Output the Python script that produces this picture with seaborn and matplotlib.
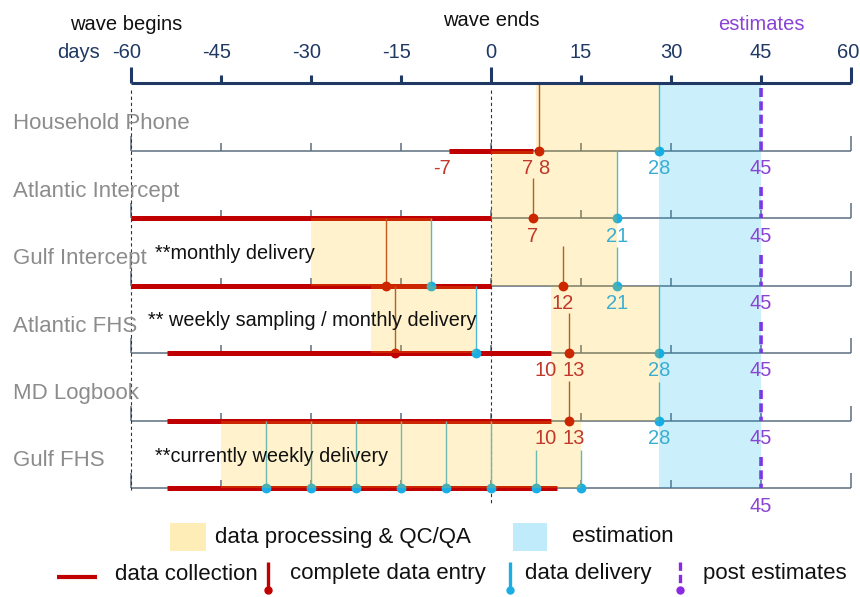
import numpy as np
import pandas as pd
import matplotlib
matplotlib.use('Agg')
import matplotlib.pyplot as plt
import seaborn as sns

sns.set_style('white')
plt.rcParams['font.family'] = ['Liberation Sans', 'DejaVu Sans']

# Data (days relative to end of wave)
sources = ['Household Phone', 'Atlantic Intercept', 'Gulf Intercept',
           'Atlantic FHS', 'MD Logbook', 'Gulf FHS']
collect_start = [-7, -60, -60, -54, -54, -54]
collect_end = [7, 0, 0, 10, 10, 11]
entry_day = [8, 7, 12, 13, 13, np.nan]
delivery_day = [28, 21, 21, 28, 28, 15]
post_day = [45, 45, 45, 45, 45, 45]
processing = [[(7.5, 28)], [(0, 21)], [(-30, -10), (0, 21)],
              [(-20, -2.5), (10, 28)], [(10, 28)], [(-45, 15)]]
estimation = [(28, 45)] * 6
early_entry = [np.nan, np.nan, -17.5, -16, np.nan, np.nan]
early_delivery = [np.nan, np.nan, -10, -2.5, np.nan, np.nan]
gulf_fhs_weekly = [-37.5, -30, -22.5, -15, -7.5, 0, 7.5, 15]
notes = ['', '', '**monthly delivery', '** weekly sampling / monthly delivery',
         '', '**currently weekly delivery']
label_fields = [['start', 'end', 'entry', 'delivery', 'post'],
                ['entry', 'delivery', 'post'],
                ['entry', 'delivery', 'post'],
                ['end', 'entry', 'delivery', 'post'],
                ['end', 'entry', 'delivery', 'post'],
                ['post']]
day_ticks = [-60, -45, -30, -15, 0, 15, 30, 45, 60]

# colours
navy = '#1f3864'
red = '#c00000'
red_txt = '#c0392b'
blue = '#1aaee5'
blue_line = '#4cb9dd'
blue_txt = '#3aaed0'
purple = '#8a2be2'
purple_txt = '#8a44d4'
gray_txt = '#8c8c8c'
base_col = '#5d6d7e'
tan = '#ffc000'
sky = '#00b0f0'

fs_axis = 14.5
fs_val = 14.5
fs_row = 16
fs_note = 14.3
fs_leg = 16

fig = plt.figure(figsize=(8.6, 5.97), dpi=100)
ax = fig.add_axes([0, 0, 1, 1])

def px(x):
    return (x - 491) / 6.0

axis_y = 83
base_y = [150.5 + i * 67.5 for i in range(len(sources))]

# top axis
ax.hlines(axis_y, -60, 60, color=navy, lw=2.2, zorder=5)
for d in day_ticks:
    top = axis_y - 16 if d in (-60, 0, 60) else axis_y - 8
    ax.vlines(d, top, axis_y, color=navy, lw=2.2, zorder=5)
    if d == day_ticks[-1]:
        ax.text(px(859), 52, str(d), ha='right', va='center', fontsize=fs_axis, color=navy)
    else:
        shift = -0.7 if d < 0 else 0
        ax.text(d + shift, 52, str(d), ha='center', va='center', fontsize=fs_axis, color=navy)
ax.text(px(100), 52, 'days', ha='right', va='center', fontsize=fs_axis, color=navy)
ax.text(px(126), 24, 'wave begins', ha='center', va='center', fontsize=fs_axis, color='#111111')
ax.text(0, 20, 'wave ends', ha='center', va='center', fontsize=fs_axis, color='#111111')
ax.text(45, 25, 'estimates', ha='center', va='center', fontsize=fs_axis, color=purple_txt)

# dashed reference lines
ax.vlines(-60, 90, 490, color='#333333', lw=0.8, linestyles=(0, (3, 2.5)), zorder=2)
ax.vlines(0, 90, 505, color='#333333', lw=0.8, linestyles=(0, (3, 2.5)), zorder=2)

dots_entry = []
dots_deliv = []
label_pos = []
for i, name in enumerate(sources):
    y = base_y[i]
    prev = base_y[i - 1] if i > 0 else axis_y
    ax.text(px(13), y - 27, name, ha='left', va='center', fontsize=fs_row, color=gray_txt)
    # baseline with ticks
    ax.hlines(y, -60, 60, color=base_col, lw=1.1, zorder=1)
    for d in day_ticks:
        h = 15 if d in (-60, 60) else 8
        ax.vlines(d, y - h, y, color=base_col, lw=1.1, zorder=1)
    # data collection
    ax.hlines(y, collect_start[i], collect_end[i], color=red, lw=3.6, zorder=2)
    # shading
    for a, b in processing[i]:
        ax.fill_between([a, b], prev, y, color=tan, alpha=0.2, lw=0, zorder=4)
    a, b = estimation[i]
    ax.fill_between([a, b], prev, y, color=sky, alpha=0.2, lw=0, zorder=4)

    # complete data entry
    if not np.isnan(entry_day[i]):
        top = prev if i == 0 else y - 40
        ax.vlines(entry_day[i], top, y, color='#b5402a', lw=1.0, zorder=3)
        dots_entry.append((entry_day[i], y))
    if not np.isnan(early_entry[i]):
        ax.vlines(early_entry[i], prev, y, color='#b5402a', lw=1.0, zorder=3)
        dots_entry.append((early_entry[i], y))
    # data delivery
    delivs = gulf_fhs_weekly if name == 'Gulf FHS' else [delivery_day[i]]
    for d in delivs:
        top = prev
        if i > 0 and any(abs(d - p) < 4 for p in label_pos):
            top = prev + 29
        ax.vlines(d, top, y, color=blue_line, lw=1.0, zorder=3)
        dots_deliv.append((d, y))
    if not np.isnan(early_delivery[i]):
        ax.vlines(early_delivery[i], prev, y, color=blue_line, lw=1.0, zorder=3)
        dots_deliv.append((early_delivery[i], y))
    # post estimates
    top = prev + 5 if i == 0 else y - 31
    ax.vlines(post_day[i], top, y, color=purple, lw=2.6,
              linestyles=(0, (2.5, 1.2)), zorder=3)

    # value labels under the baseline
    label_pos = []
    ly = y + 18
    fields = label_fields[i]
    mid = (collect_end[i] + entry_day[i]) / 2.0
    for f in fields:
        if f == 'start':
            v = collect_start[i]
            ax.text(v + 0.3, ly, str(v), ha='right', va='center', fontsize=fs_val, color=red_txt, zorder=6)
        elif f == 'end':
            v = collect_end[i]
            ax.text(mid - 0.5, ly, str(v), ha='right', va='center', fontsize=fs_val, color=red_txt, zorder=6)
        elif f == 'entry':
            v = int(entry_day[i])
            if 'end' in fields:
                ax.text(mid + 0.4, ly, str(v), ha='left', va='center', fontsize=fs_val, color=red_txt, zorder=6)
            else:
                ax.text(v, ly, str(v), ha='center', va='center', fontsize=fs_val, color=red_txt, zorder=6)
        elif f == 'delivery':
            v = delivery_day[i]
            ax.text(v, ly, str(v), ha='center', va='center', fontsize=fs_val, color=blue_txt, zorder=6)
        else:
            v = post_day[i]
            ax.text(v, ly, str(v), ha='center', va='center', fontsize=fs_val, color=purple_txt, zorder=6)
        label_pos.append(v)

    if notes[i]:
        ax.text(px(155) if i != 3 else px(148), y - 32, notes[i], ha='left', va='center',
                fontsize=fs_note, color='#111111', zorder=6)

df_entry = pd.DataFrame(dots_entry, columns=['day', 'y'])
df_deliv = pd.DataFrame(dots_deliv, columns=['day', 'y'])
sns.scatterplot(data=df_entry, x='day', y='y', color=red, s=50, linewidth=0,
                ax=ax, zorder=3, legend=False)
sns.scatterplot(data=df_deliv, x='day', y='y', color=blue, s=50, linewidth=0,
                ax=ax, zorder=3, legend=False)

# legend (drawn by hand)
ax.fill_between([px(170), px(206)], 523, 551, color=tan, alpha=0.28, lw=0)
ax.text(px(215), 537, 'data processing & QC/QA', ha='left', va='center', fontsize=fs_leg, color='#111111')
ax.fill_between([px(513), px(547)], 523, 551, color=sky, alpha=0.25, lw=0)
ax.text(px(572), 537, 'estimation', ha='left', va='center', fontsize=fs_leg, color='#111111')

ly = 574
ax.hlines(ly + 3, px(57), px(97), color=red, lw=3.0)
ax.text(px(115), ly, 'data collection', ha='left', va='center', fontsize=fs_leg, color='#111111')
ax.vlines(px(268), 562, 589, color=red, lw=2.4)
ax.plot(px(268), 590, 'o', color=red, ms=5)
ax.text(px(290), ly, 'complete data entry', ha='left', va='center', fontsize=fs_leg, color='#111111')
ax.vlines(px(510), 562, 589, color=blue, lw=2.4)
ax.plot(px(510), 590, 'o', color=blue, ms=5)
ax.text(px(525), ly, 'data delivery', ha='left', va='center', fontsize=fs_leg, color='#111111')
ax.vlines(px(680), 562, 589, color=purple, lw=2.4, linestyles=(0, (2.5, 1.2)))
ax.plot(px(680), 590, 'o', color=purple, ms=5)
ax.text(px(703), ly, 'post estimates', ha='left', va='center', fontsize=fs_leg, color='#111111')

ax.set_xlim(px(0), px(860))
ax.set_ylim(597, 0)
ax.set_xlabel('')
ax.set_ylabel('')
ax.axis('off')

fig.savefig('out.png', dpi=100)
